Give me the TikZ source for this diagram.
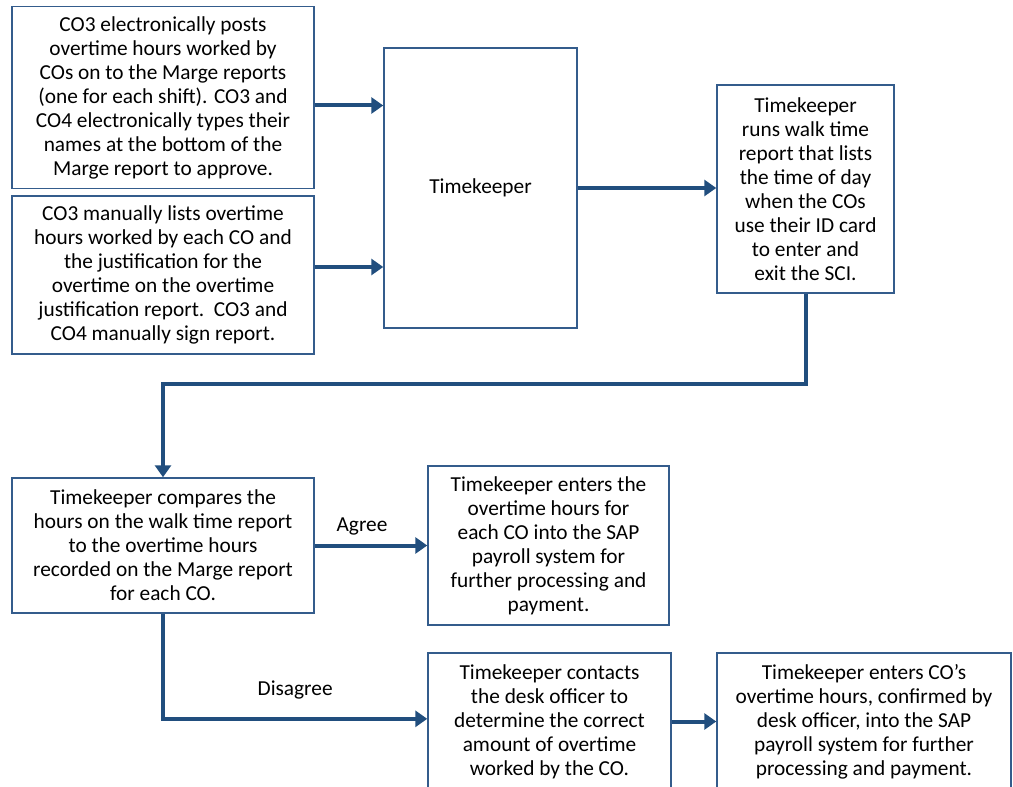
\documentclass[tikz,border=0pt]{standalone}
\usepackage{fontspec}
\setmainfont{Carlito}
\usepackage{tikz}
\usetikzlibrary{arrows.meta, positioning, calc}
\definecolor{mynavy}{RGB}{33,78,126}
\definecolor{myedge}{RGB}{52,92,140}
\tikzset{
  box/.style={rectangle, draw=myedge, fill=white, line width=1.1pt,
    align=center, font=\fontsize{16pt}{18pt}\selectfont, inner sep=0pt},
  arrow/.style={-{Triangle[length=9pt, width=12pt]}, line width=3pt, color=mynavy},
  lbl/.style={font=\fontsize{16pt}{18pt}\selectfont, inner sep=0pt, text=black}
}
\begin{document}
\begin{tikzpicture}[x=0.75pt, y=-0.75pt]
  \useasboundingbox (0,0) rectangle (1013,787);

  % Input reports
  \node[box, minimum width=226.5pt, minimum height=136.5pt] (marge) at (163,97.5)
    {CO3 electronically posts\\overtime hours worked by\\COs on to the Marge reports\\(one for each shift). CO3 and\\CO4 electronically types their\\names at the bottom of the\\Marge report to approve.};
  \node[box, minimum width=226.5pt, minimum height=118.5pt] (justif) at (163,275)
    {CO3 manually lists overtime\\hours worked by each CO and\\the justification for the\\overtime on the overtime\\justification report.\ \ CO3 and\\CO4 manually sign report.};

  % Timekeeper
  \node[box, minimum width=144.75pt, minimum height=210pt] (keeper) at (480.5,188) {Timekeeper};
  \node[box, minimum width=132.75pt, minimum height=156pt] (walk) at (805.5,189)
    {Timekeeper\\runs walk time\\report that lists\\the time of day\\when the COs\\use their ID card\\to enter and\\exit the SCI.};

  % Comparison
  \node[box, minimum width=226.5pt, minimum height=101.25pt] (compare) at (163,545.5)
    {Timekeeper compares the\\hours on the walk time report\\to the overtime hours\\recorded on the Marge report\\for each CO.};
  \node[box, minimum width=180.75pt, minimum height=119.25pt] (enter) at (548.5,545.5)
    {Timekeeper enters the\\overtime hours for\\each CO into the SAP\\payroll system for\\further processing and\\payment.};
  \node[box, minimum width=182.25pt, minimum height=102.75pt] (contact) at (549.5,721.5)
    {Timekeeper contacts\\the desk officer to\\determine the correct\\amount of overtime\\worked by the CO.};
  \node[box, minimum width=220.5pt, minimum height=102.75pt] (confirm) at (864,721.5)
    {Timekeeper enters CO’s\\overtime hours, confirmed by\\desk officer, into the SAP\\payroll system for further\\processing and payment.};

  \coordinate (bend) at (163,384);

  % Connections
  \draw[arrow] ([yshift=-6pt]marge.east) -- ([yshift=-6pt]marge.east -| keeper.west);
  \draw[arrow] ([yshift=6pt]justif.east) -- ([yshift=6pt]justif.east -| keeper.west);
  \draw[arrow] (keeper.east) -- (keeper.east -| walk.west);
  \draw[arrow] (walk.south) |- (bend) -- (compare.north);
  \draw[arrow] (compare.east) -- (compare.east -| enter.west)
    node[lbl, pos=0.42, above=6pt] {Agree};
  \draw[arrow] (compare.south) |- ([yshift=2pt]contact.west)
    node[lbl, pos=0.75, above=13.5pt] {Disagree};
  \draw[arrow] (contact.east) -- (confirm.west);
\end{tikzpicture}
\end{document}
